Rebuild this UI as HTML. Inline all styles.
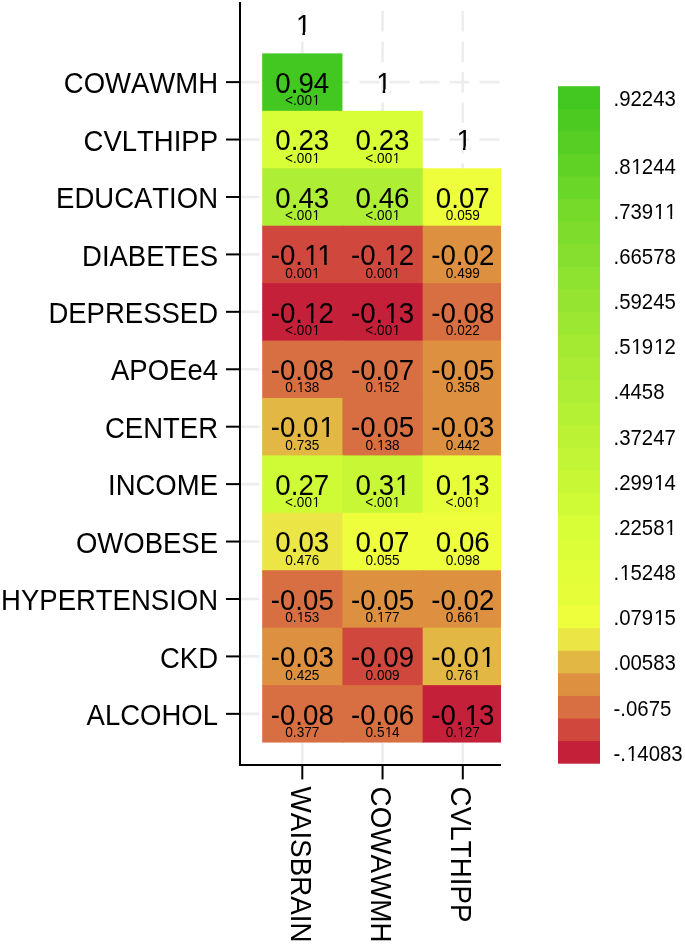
<!DOCTYPE html>
<html><head><meta charset="utf-8"><title>Correlation heatmap</title><style>html,body{margin:0;padding:0;background:#fff;}svg{display:block;}text{font-kerning:none;}</style></head><body>
<svg width="685" height="945" viewBox="0 0 685 945">
<rect x="0" y="0" width="685" height="945" fill="#ffffff"/>
<defs><clipPath id="nf"><path clip-rule="evenodd" d="M0 0H685V945H0ZM312.73 102.86H315.81V106.02H312.73ZM317.02 102.86H319.99V106.02H317.02ZM312.73 160.29H315.81V163.44H312.73ZM317.02 160.29H319.99V163.44H317.02ZM392.98 160.29H396.06V163.44H392.98ZM397.27 160.29H400.24V163.44H397.27ZM312.73 217.72H315.81V220.87H312.73ZM317.02 217.72H319.99V220.87H317.02ZM392.98 217.72H396.06V220.87H392.98ZM397.27 217.72H400.24V220.87H397.27ZM305.39 261.64H310.94V265.87H305.39ZM313.39 261.64H318.73V265.87H313.39ZM318.74 261.64H324.29V265.87H318.74ZM326.74 261.64H332.08V265.87H326.74ZM312.54 275.15H315.62V278.31H312.54ZM316.83 275.15H319.80V278.31H316.83ZM385.64 261.64H391.19V265.87H385.64ZM393.64 261.64H398.98V265.87H393.64ZM392.79 275.15H395.87V278.31H392.79ZM397.08 275.15H400.05V278.31H397.08ZM305.39 319.07H310.94V323.29H305.39ZM313.39 319.07H318.73V323.29H313.39ZM312.73 332.58H315.81V335.73H312.73ZM317.02 332.58H319.99V335.73H317.02ZM385.64 319.07H391.19V323.29H385.64ZM393.64 319.07H398.98V323.29H393.64ZM392.98 332.58H396.06V335.73H392.98ZM397.27 332.58H400.24V335.73H397.27ZM297.41 390.01H300.50V393.16H297.41ZM301.70 390.01H304.68V393.16H301.70ZM377.66 390.01H380.75V393.16H377.66ZM381.95 390.01H384.93V393.16H381.95ZM320.79 433.93H326.35V438.15H320.79ZM328.80 433.93H334.14V438.15H328.80ZM377.66 447.44H380.75V450.59H377.66ZM381.95 447.44H384.93V450.59H381.95ZM312.73 504.87H315.81V508.02H312.73ZM317.02 504.87H319.99V508.02H317.02ZM396.43 491.36H401.99V495.58H396.43ZM404.43 491.36H409.77V495.58H404.43ZM392.98 504.87H396.06V508.02H392.98ZM397.27 504.87H400.24V508.02H397.27ZM461.27 491.36H466.83V495.58H461.27ZM469.28 491.36H474.62V495.58H469.28ZM473.23 504.87H476.31V508.02H473.23ZM477.52 504.87H480.49V508.02H477.52ZM297.41 619.73H300.50V622.89H297.41ZM301.70 619.73H304.68V622.89H301.70ZM377.66 619.73H380.75V622.89H377.66ZM381.95 619.73H384.93V622.89H381.95ZM473.04 619.73H476.12V622.89H473.04ZM477.33 619.73H480.30V622.89H477.33ZM481.29 663.65H486.85V667.88H481.29ZM489.30 663.65H494.64V667.88H489.30ZM473.04 677.16H476.12V680.32H473.04ZM477.33 677.16H480.30V680.32H477.33ZM385.23 734.59H388.31V737.75H385.23ZM389.51 734.59H392.49V737.75H389.51ZM465.89 721.08H471.44V725.31H465.89ZM473.89 721.08H479.23V725.31H473.89ZM457.91 734.59H461.00V737.75H457.91ZM462.20 734.59H465.18V737.75H462.20ZM296.93 31.92H302.48V36.15H296.93ZM304.93 31.92H310.27V36.15H304.93ZM377.18 89.35H382.73V93.58H377.18ZM385.18 89.35H390.52V93.58H385.18ZM457.43 146.78H462.98V151.00H457.43ZM465.43 146.78H470.77V151.00H465.43ZM627.49 757.72H631.77V761.41H627.49ZM633.57 757.72H637.69V761.41H633.57ZM654.74 622.22H659.01V625.91H654.74ZM660.81 622.22H664.93V625.91H660.81ZM620.70 577.05H624.98V580.74H620.70ZM626.78 577.05H630.89V580.74H626.78ZM666.08 531.88H670.36V535.58H666.08ZM672.16 531.88H676.28V535.58H672.16ZM654.74 486.72H659.01V490.41H654.74ZM660.81 486.72H664.93V490.41H660.81ZM632.04 351.22H636.32V354.91H632.04ZM638.12 351.22H642.24V354.91H638.12ZM654.74 351.22H659.01V354.91H654.74ZM660.81 351.22H664.93V354.91H660.81ZM654.74 215.72H659.01V219.41H654.74ZM660.81 215.72H664.93V219.41H660.81ZM666.08 215.72H670.36V219.41H666.08ZM672.16 215.72H676.28V219.41H672.16ZM632.04 170.55H636.32V174.24H632.04ZM638.12 170.55H642.24V174.24H638.12Z"/></clipPath></defs>
<g stroke="#ededed" stroke-width="2.6" fill="none">
<line x1="302.30" y1="11" x2="302.30" y2="764" stroke-dasharray="20.5 10"/>
<line x1="382.55" y1="11" x2="382.55" y2="764" stroke-dasharray="20.5 10"/>
<line x1="462.80" y1="11" x2="462.80" y2="764" stroke-dasharray="20.5 10"/>
<line x1="239.5" y1="82.11" x2="501.0" y2="82.11" stroke-dasharray="20 10"/>
<line x1="239.5" y1="139.54" x2="501.0" y2="139.54" stroke-dasharray="20 10"/>
<line x1="239.5" y1="196.97" x2="501.0" y2="196.97" stroke-dasharray="20 10"/>
<line x1="239.5" y1="254.41" x2="501.0" y2="254.41" stroke-dasharray="20 10"/>
<line x1="239.5" y1="311.83" x2="501.0" y2="311.83" stroke-dasharray="20 10"/>
<line x1="239.5" y1="369.26" x2="501.0" y2="369.26" stroke-dasharray="20 10"/>
<line x1="239.5" y1="426.69" x2="501.0" y2="426.69" stroke-dasharray="20 10"/>
<line x1="239.5" y1="484.12" x2="501.0" y2="484.12" stroke-dasharray="20 10"/>
<line x1="239.5" y1="541.55" x2="501.0" y2="541.55" stroke-dasharray="20 10"/>
<line x1="239.5" y1="598.99" x2="501.0" y2="598.99" stroke-dasharray="20 10"/>
<line x1="239.5" y1="656.41" x2="501.0" y2="656.41" stroke-dasharray="20 10"/>
<line x1="239.5" y1="713.85" x2="501.0" y2="713.85" stroke-dasharray="20 10"/>
</g>
<rect x="262.18" y="53.40" width="80.25" height="58.43" fill="#42C820"/>
<rect x="262.18" y="110.83" width="81.25" height="58.43" fill="#D7FE37"/>
<rect x="342.43" y="110.83" width="80.25" height="58.43" fill="#D7FE37"/>
<rect x="262.18" y="168.26" width="81.25" height="58.43" fill="#AEEE34"/>
<rect x="342.43" y="168.26" width="81.25" height="58.43" fill="#AEEE34"/>
<rect x="422.68" y="168.26" width="78.32" height="58.43" fill="#EEFE3C"/>
<rect x="262.18" y="225.69" width="81.25" height="58.43" fill="#CF473D"/>
<rect x="342.43" y="225.69" width="81.25" height="58.43" fill="#CF473D"/>
<rect x="422.68" y="225.69" width="78.32" height="58.43" fill="#DD9040"/>
<rect x="262.18" y="283.12" width="81.25" height="58.43" fill="#C4203A"/>
<rect x="342.43" y="283.12" width="81.25" height="58.43" fill="#C4203A"/>
<rect x="422.68" y="283.12" width="78.32" height="58.43" fill="#D86F42"/>
<rect x="262.18" y="340.55" width="81.25" height="58.43" fill="#D86F42"/>
<rect x="342.43" y="340.55" width="81.25" height="58.43" fill="#D86F42"/>
<rect x="422.68" y="340.55" width="78.32" height="58.43" fill="#DD9040"/>
<rect x="262.18" y="397.98" width="81.25" height="58.43" fill="#E3B743"/>
<rect x="342.43" y="397.98" width="81.25" height="58.43" fill="#D86F42"/>
<rect x="422.68" y="397.98" width="78.32" height="58.43" fill="#DD9040"/>
<rect x="262.18" y="455.41" width="81.25" height="58.43" fill="#CFFB36"/>
<rect x="342.43" y="455.41" width="81.25" height="58.43" fill="#C8F735"/>
<rect x="422.68" y="455.41" width="78.32" height="58.43" fill="#E6FE3A"/>
<rect x="262.18" y="512.84" width="81.25" height="58.43" fill="#EBE646"/>
<rect x="342.43" y="512.84" width="81.25" height="58.43" fill="#EEFE3C"/>
<rect x="422.68" y="512.84" width="78.32" height="58.43" fill="#EEFE3C"/>
<rect x="262.18" y="570.27" width="81.25" height="58.43" fill="#D86F42"/>
<rect x="342.43" y="570.27" width="81.25" height="58.43" fill="#DD9040"/>
<rect x="422.68" y="570.27" width="78.32" height="58.43" fill="#DD9040"/>
<rect x="262.18" y="627.70" width="81.25" height="58.43" fill="#DD9040"/>
<rect x="342.43" y="627.70" width="81.25" height="58.43" fill="#CF473D"/>
<rect x="422.68" y="627.70" width="78.32" height="58.43" fill="#E3B743"/>
<rect x="262.18" y="685.13" width="81.25" height="57.43" fill="#D86F42"/>
<rect x="342.43" y="685.13" width="81.25" height="57.43" fill="#D86F42"/>
<rect x="422.68" y="685.13" width="78.32" height="57.43" fill="#C4203A"/>
<g font-family="Liberation Sans, Arial, sans-serif" fill="#000" clip-path="url(#nf)">
<text transform="translate(302.30,92.88) scale(1,1.075)" font-size="27.7" text-anchor="middle">0.94</text>
<text transform="translate(302.53,105.31) scale(1,1.14)" font-size="13.6" text-anchor="middle" dx="0 0 0 0 0.45">&lt;.001</text>
<text transform="translate(302.30,150.30) scale(1,1.075)" font-size="27.7" text-anchor="middle">0.23</text>
<text transform="translate(302.53,162.74) scale(1,1.14)" font-size="13.6" text-anchor="middle" dx="0 0 0 0 0.45">&lt;.001</text>
<text transform="translate(382.55,150.30) scale(1,1.075)" font-size="27.7" text-anchor="middle">0.23</text>
<text transform="translate(382.78,162.74) scale(1,1.14)" font-size="13.6" text-anchor="middle" dx="0 0 0 0 0.45">&lt;.001</text>
<text transform="translate(302.30,207.73) scale(1,1.075)" font-size="27.7" text-anchor="middle">0.43</text>
<text transform="translate(302.53,220.17) scale(1,1.14)" font-size="13.6" text-anchor="middle" dx="0 0 0 0 0.45">&lt;.001</text>
<text transform="translate(382.55,207.73) scale(1,1.075)" font-size="27.7" text-anchor="middle">0.46</text>
<text transform="translate(382.78,220.17) scale(1,1.14)" font-size="13.6" text-anchor="middle" dx="0 0 0 0 0.45">&lt;.001</text>
<text transform="translate(462.80,207.73) scale(1,1.075)" font-size="27.7" text-anchor="middle">0.07</text>
<text transform="translate(462.80,220.17) scale(1,1.14)" font-size="13.6" text-anchor="middle">0.059</text>
<text transform="translate(301.73,265.17) scale(1,1.075)" font-size="27.7" text-anchor="middle" dx="0 0 0 0.92 -2.06">-0.11</text>
<text transform="translate(302.53,277.61) scale(1,1.14)" font-size="13.6" text-anchor="middle" dx="0 0 0 0 0.45">0.001</text>
<text transform="translate(382.55,265.17) scale(1,1.075)" font-size="27.7" text-anchor="middle" dx="0 0 0 0.92 -0.92">-0.12</text>
<text transform="translate(382.78,277.61) scale(1,1.14)" font-size="13.6" text-anchor="middle" dx="0 0 0 0 0.45">0.001</text>
<text transform="translate(462.80,265.17) scale(1,1.075)" font-size="27.7" text-anchor="middle">-0.02</text>
<text transform="translate(462.80,277.61) scale(1,1.14)" font-size="13.6" text-anchor="middle">0.499</text>
<text transform="translate(302.30,322.59) scale(1,1.075)" font-size="27.7" text-anchor="middle" dx="0 0 0 0.92 -0.92">-0.12</text>
<text transform="translate(302.53,335.03) scale(1,1.14)" font-size="13.6" text-anchor="middle" dx="0 0 0 0 0.45">&lt;.001</text>
<text transform="translate(382.55,322.59) scale(1,1.075)" font-size="27.7" text-anchor="middle" dx="0 0 0 0.92 -0.92">-0.13</text>
<text transform="translate(382.78,335.03) scale(1,1.14)" font-size="13.6" text-anchor="middle" dx="0 0 0 0 0.45">&lt;.001</text>
<text transform="translate(462.80,322.59) scale(1,1.075)" font-size="27.7" text-anchor="middle">-0.08</text>
<text transform="translate(462.80,335.03) scale(1,1.14)" font-size="13.6" text-anchor="middle">0.022</text>
<text transform="translate(302.30,380.02) scale(1,1.075)" font-size="27.7" text-anchor="middle">-0.08</text>
<text transform="translate(302.30,392.46) scale(1,1.14)" font-size="13.6" text-anchor="middle" dx="0 0 0.45 -0.45">0.138</text>
<text transform="translate(382.55,380.02) scale(1,1.075)" font-size="27.7" text-anchor="middle">-0.07</text>
<text transform="translate(382.55,392.46) scale(1,1.14)" font-size="13.6" text-anchor="middle" dx="0 0 0.45 -0.45">0.152</text>
<text transform="translate(462.80,380.02) scale(1,1.075)" font-size="27.7" text-anchor="middle">-0.05</text>
<text transform="translate(462.80,392.46) scale(1,1.14)" font-size="13.6" text-anchor="middle">0.358</text>
<text transform="translate(302.76,437.45) scale(1,1.075)" font-size="27.7" text-anchor="middle" dx="0 0 0 0 0.92">-0.01</text>
<text transform="translate(302.30,449.89) scale(1,1.14)" font-size="13.6" text-anchor="middle">0.735</text>
<text transform="translate(382.55,437.45) scale(1,1.075)" font-size="27.7" text-anchor="middle">-0.05</text>
<text transform="translate(382.55,449.89) scale(1,1.14)" font-size="13.6" text-anchor="middle" dx="0 0 0.45 -0.45">0.138</text>
<text transform="translate(462.80,437.45) scale(1,1.075)" font-size="27.7" text-anchor="middle">-0.03</text>
<text transform="translate(462.80,449.89) scale(1,1.14)" font-size="13.6" text-anchor="middle">0.442</text>
<text transform="translate(302.30,494.88) scale(1,1.075)" font-size="27.7" text-anchor="middle">0.27</text>
<text transform="translate(302.53,507.32) scale(1,1.14)" font-size="13.6" text-anchor="middle" dx="0 0 0 0 0.45">&lt;.001</text>
<text transform="translate(383.01,494.88) scale(1,1.075)" font-size="27.7" text-anchor="middle" dx="0 0 0 0.92">0.31</text>
<text transform="translate(382.78,507.32) scale(1,1.14)" font-size="13.6" text-anchor="middle" dx="0 0 0 0 0.45">&lt;.001</text>
<text transform="translate(462.80,494.88) scale(1,1.075)" font-size="27.7" text-anchor="middle" dx="0 0 0.92 -0.92">0.13</text>
<text transform="translate(463.03,507.32) scale(1,1.14)" font-size="13.6" text-anchor="middle" dx="0 0 0 0 0.45">&lt;.001</text>
<text transform="translate(302.30,552.31) scale(1,1.075)" font-size="27.7" text-anchor="middle">0.03</text>
<text transform="translate(302.30,564.75) scale(1,1.14)" font-size="13.6" text-anchor="middle">0.476</text>
<text transform="translate(382.55,552.31) scale(1,1.075)" font-size="27.7" text-anchor="middle">0.07</text>
<text transform="translate(382.55,564.75) scale(1,1.14)" font-size="13.6" text-anchor="middle">0.055</text>
<text transform="translate(462.80,552.31) scale(1,1.075)" font-size="27.7" text-anchor="middle">0.06</text>
<text transform="translate(462.80,564.75) scale(1,1.14)" font-size="13.6" text-anchor="middle">0.098</text>
<text transform="translate(302.30,609.75) scale(1,1.075)" font-size="27.7" text-anchor="middle">-0.05</text>
<text transform="translate(302.30,622.19) scale(1,1.14)" font-size="13.6" text-anchor="middle" dx="0 0 0.45 -0.45">0.153</text>
<text transform="translate(382.55,609.75) scale(1,1.075)" font-size="27.7" text-anchor="middle">-0.05</text>
<text transform="translate(382.55,622.19) scale(1,1.14)" font-size="13.6" text-anchor="middle" dx="0 0 0.45 -0.45">0.177</text>
<text transform="translate(462.80,609.75) scale(1,1.075)" font-size="27.7" text-anchor="middle">-0.02</text>
<text transform="translate(463.03,622.19) scale(1,1.14)" font-size="13.6" text-anchor="middle" dx="0 0 0 0 0.45">0.661</text>
<text transform="translate(302.30,667.17) scale(1,1.075)" font-size="27.7" text-anchor="middle">-0.03</text>
<text transform="translate(302.30,679.62) scale(1,1.14)" font-size="13.6" text-anchor="middle">0.425</text>
<text transform="translate(382.55,667.17) scale(1,1.075)" font-size="27.7" text-anchor="middle">-0.09</text>
<text transform="translate(382.55,679.62) scale(1,1.14)" font-size="13.6" text-anchor="middle">0.009</text>
<text transform="translate(463.26,667.17) scale(1,1.075)" font-size="27.7" text-anchor="middle" dx="0 0 0 0 0.92">-0.01</text>
<text transform="translate(463.03,679.62) scale(1,1.14)" font-size="13.6" text-anchor="middle" dx="0 0 0 0 0.45">0.761</text>
<text transform="translate(302.30,724.61) scale(1,1.075)" font-size="27.7" text-anchor="middle">-0.08</text>
<text transform="translate(302.30,737.05) scale(1,1.14)" font-size="13.6" text-anchor="middle">0.377</text>
<text transform="translate(382.55,724.61) scale(1,1.075)" font-size="27.7" text-anchor="middle">-0.06</text>
<text transform="translate(382.55,737.05) scale(1,1.14)" font-size="13.6" text-anchor="middle" dx="0 0 0 0.45 -0.45">0.514</text>
<text transform="translate(462.80,724.61) scale(1,1.075)" font-size="27.7" text-anchor="middle" dx="0 0 0 0.92 -0.92">-0.13</text>
<text transform="translate(462.80,737.05) scale(1,1.14)" font-size="13.6" text-anchor="middle" dx="0 0 0.45 -0.45">0.127</text>
<text transform="translate(302.76,35.45) scale(1,1.075)" font-size="27.7" text-anchor="middle" dx="0.92">1</text>
<text transform="translate(383.01,92.88) scale(1,1.075)" font-size="27.7" text-anchor="middle" dx="0.92">1</text>
<text transform="translate(463.26,150.30) scale(1,1.075)" font-size="27.7" text-anchor="middle" dx="0.92">1</text>
</g>
<g stroke="#000" stroke-width="2" fill="none" stroke-linecap="butt">
<line x1="240.0" y1="2" x2="240.0" y2="766"/>
<line x1="239" y1="765.0" x2="501.0" y2="765.0"/>
<line x1="226" y1="82.11" x2="240.0" y2="82.11"/>
<line x1="226" y1="139.54" x2="240.0" y2="139.54"/>
<line x1="226" y1="196.97" x2="240.0" y2="196.97"/>
<line x1="226" y1="254.41" x2="240.0" y2="254.41"/>
<line x1="226" y1="311.83" x2="240.0" y2="311.83"/>
<line x1="226" y1="369.26" x2="240.0" y2="369.26"/>
<line x1="226" y1="426.69" x2="240.0" y2="426.69"/>
<line x1="226" y1="484.12" x2="240.0" y2="484.12"/>
<line x1="226" y1="541.55" x2="240.0" y2="541.55"/>
<line x1="226" y1="598.99" x2="240.0" y2="598.99"/>
<line x1="226" y1="656.41" x2="240.0" y2="656.41"/>
<line x1="226" y1="713.85" x2="240.0" y2="713.85"/>
<line x1="302.30" y1="765.0" x2="302.30" y2="779.4"/>
<line x1="382.55" y1="765.0" x2="382.55" y2="779.4"/>
<line x1="462.80" y1="765.0" x2="462.80" y2="779.4"/>
</g>
<g font-family="Liberation Sans, Arial, sans-serif" fill="#000">
<text transform="translate(218.00,93.23) scale(1,1.08)" font-size="27.5" text-anchor="end">COWAWMH</text>
<text transform="translate(218.00,150.66) scale(1,1.08)" font-size="27.5" text-anchor="end">CVLTHIPP</text>
<text transform="translate(218.00,208.09) scale(1,1.08)" font-size="27.5" text-anchor="end">EDUCATION</text>
<text transform="translate(218.00,265.52) scale(1,1.08)" font-size="27.5" text-anchor="end">DIABETES</text>
<text transform="translate(218.00,322.95) scale(1,1.08)" font-size="27.5" text-anchor="end">DEPRESSED</text>
<text transform="translate(218.00,380.38) scale(1,1.08)" font-size="27.5" text-anchor="end">APOEe4</text>
<text transform="translate(218.00,437.81) scale(1,1.08)" font-size="27.5" text-anchor="end">CENTER</text>
<text transform="translate(218.00,495.25) scale(1,1.08)" font-size="27.5" text-anchor="end">INCOME</text>
<text transform="translate(218.00,552.67) scale(1,1.08)" font-size="27.5" text-anchor="end">OWOBESE</text>
<text transform="translate(218.00,610.11) scale(1,1.08)" font-size="27.5" text-anchor="end">HYPERTENSION</text>
<text transform="translate(218.00,667.53) scale(1,1.08)" font-size="27.5" text-anchor="end">CKD</text>
<text transform="translate(218.00,724.97) scale(1,1.08)" font-size="27.5" text-anchor="end">ALCOHOL</text>
</g>
<g font-family="Liberation Sans, Arial, sans-serif" fill="#000">
<text transform="translate(290.50,786.60) rotate(90) scale(1,1.05)" font-size="27.8">WAISBRAIN</text>
<text transform="translate(370.75,786.60) rotate(90) scale(1,1.05)" font-size="27.8">COWAWMH</text>
<text transform="translate(451.00,786.60) rotate(90) scale(1,1.05)" font-size="27.8">CVLTHIPP</text>
</g>
<rect x="558.0" y="86.20" width="42.0" height="23.58" fill="#42C820"/>
<rect x="558.0" y="108.78" width="42.0" height="23.58" fill="#4CCA22"/>
<rect x="558.0" y="131.37" width="42.0" height="23.58" fill="#56CE24"/>
<rect x="558.0" y="153.95" width="42.0" height="23.58" fill="#60D226"/>
<rect x="558.0" y="176.53" width="42.0" height="23.58" fill="#6AD628"/>
<rect x="558.0" y="199.12" width="42.0" height="23.58" fill="#76DA2A"/>
<rect x="558.0" y="221.70" width="42.0" height="23.58" fill="#7EDC2C"/>
<rect x="558.0" y="244.28" width="42.0" height="23.58" fill="#86DF2E"/>
<rect x="558.0" y="266.87" width="42.0" height="23.58" fill="#8EE230"/>
<rect x="558.0" y="289.45" width="42.0" height="23.58" fill="#94E431"/>
<rect x="558.0" y="312.03" width="42.0" height="23.58" fill="#9CE732"/>
<rect x="558.0" y="334.62" width="42.0" height="23.58" fill="#A4EA33"/>
<rect x="558.0" y="357.20" width="42.0" height="23.58" fill="#AAEC34"/>
<rect x="558.0" y="379.78" width="42.0" height="23.58" fill="#AEEE34"/>
<rect x="558.0" y="402.37" width="42.0" height="23.58" fill="#B4F034"/>
<rect x="558.0" y="424.95" width="42.0" height="23.58" fill="#BBF234"/>
<rect x="558.0" y="447.53" width="42.0" height="23.58" fill="#C2F535"/>
<rect x="558.0" y="470.12" width="42.0" height="23.58" fill="#C8F735"/>
<rect x="558.0" y="492.70" width="42.0" height="23.58" fill="#CFFB36"/>
<rect x="558.0" y="515.28" width="42.0" height="23.58" fill="#D7FE37"/>
<rect x="558.0" y="537.87" width="42.0" height="23.58" fill="#DCFE38"/>
<rect x="558.0" y="560.45" width="42.0" height="23.58" fill="#E1FE39"/>
<rect x="558.0" y="583.03" width="42.0" height="23.58" fill="#E6FE3A"/>
<rect x="558.0" y="605.62" width="42.0" height="23.58" fill="#EEFE3C"/>
<rect x="558.0" y="628.20" width="42.0" height="23.58" fill="#EBE646"/>
<rect x="558.0" y="650.78" width="42.0" height="23.58" fill="#E3B743"/>
<rect x="558.0" y="673.37" width="42.0" height="23.58" fill="#DD9040"/>
<rect x="558.0" y="695.95" width="42.0" height="23.58" fill="#D86F42"/>
<rect x="558.0" y="718.53" width="42.0" height="23.58" fill="#CF473D"/>
<rect x="558.0" y="741.12" width="42.0" height="22.58" fill="#C4203A"/>
<g font-family="Liberation Sans, Arial, sans-serif" fill="#000" clip-path="url(#nf)">
<text transform="translate(613.50,760.71) scale(1,1.11)" font-size="20.4" dx="0 0 0.68 -0.68">-.14083</text>
<text transform="translate(613.50,715.54) scale(1,1.11)" font-size="20.4">-.0675</text>
<text transform="translate(613.50,670.38) scale(1,1.11)" font-size="20.4">.00583</text>
<text transform="translate(613.50,625.21) scale(1,1.11)" font-size="20.4" dx="0 0 0 0 0.68 -0.68">.07915</text>
<text transform="translate(613.50,580.04) scale(1,1.11)" font-size="20.4" dx="0 0.68 -0.68">.15248</text>
<text transform="translate(613.50,534.88) scale(1,1.11)" font-size="20.4" dx="0 0 0 0 0 0.68">.22581</text>
<text transform="translate(613.50,489.71) scale(1,1.11)" font-size="20.4" dx="0 0 0 0 0.68 -0.68">.29914</text>
<text transform="translate(613.50,444.54) scale(1,1.11)" font-size="20.4">.37247</text>
<text transform="translate(613.50,399.38) scale(1,1.11)" font-size="20.4">.4458</text>
<text transform="translate(613.50,354.21) scale(1,1.11)" font-size="20.4" dx="0 0 0.68 -0.68 0.68 -0.68">.51912</text>
<text transform="translate(613.50,309.04) scale(1,1.11)" font-size="20.4">.59245</text>
<text transform="translate(613.50,263.88) scale(1,1.11)" font-size="20.4">.66578</text>
<text transform="translate(613.50,218.71) scale(1,1.11)" font-size="20.4" dx="0 0 0 0 0.68">.73911</text>
<text transform="translate(613.50,173.54) scale(1,1.11)" font-size="20.4" dx="0 0 0.68 -0.68">.81244</text>
<text transform="translate(613.50,105.79) scale(1,1.11)" font-size="20.4">.92243</text>
</g>
</svg>
</body></html>
